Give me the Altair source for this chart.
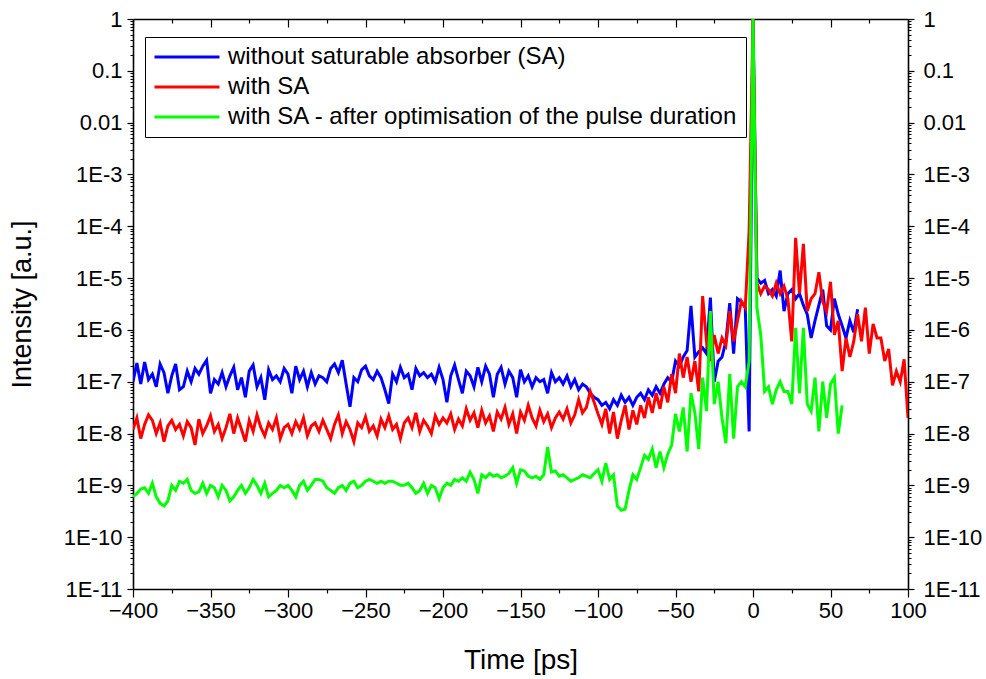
import altair as alt
import pandas as pd

# sampling grid of the traces (ps)
T0 = -400.0
DT = 2.5

blue_vals = [
    1.0e-7, 2.3e-7, 9e-8, 2.4e-7, 1.1e-7, 1.4e-7, 8e-8, 2.2e-7, 1.5e-7, 6e-8,
    1.3e-7, 2.2e-7, 7e-8, 8e-8, 1.6e-7, 1.0e-7, 1.8e-7, 1.4e-7, 2.0e-7, 2.6e-7,
    6e-8, 1.1e-7, 9e-8, 1.5e-7, 8e-8, 1.3e-7, 1.9e-7, 7e-8, 1.2e-7, 5e-8,
    1.6e-7, 2.1e-7, 8e-8, 1.2e-7, 4.5e-8, 1.7e-7, 1.1e-7, 1.3e-7, 1.0e-7, 1.8e-7,
    1.4e-7, 6e-8, 2.0e-7, 1.1e-7, 1.6e-7, 8e-8, 1.5e-7, 9e-8, 1.3e-7, 1.2e-7,
    1.0e-7, 1.8e-7, 2.2e-7, 1.5e-7, 2.6e-7, 9e-8, 3.3e-8, 1.2e-7, 1.0e-7, 1.7e-7,
    2.0e-7, 1.3e-7, 1.1e-7, 1.6e-7, 1.2e-7, 7e-8, 3.8e-8, 1.4e-7, 1.0e-7, 1.9e-7,
    1.2e-7, 1.4e-7, 7e-8, 1.8e-7, 1.3e-7, 1.5e-7, 1.2e-7, 1.4e-7, 1.0e-7, 1.9e-7,
    1.1e-7, 4e-8, 1.3e-7, 2.1e-7, 1.1e-7, 6e-8, 1.6e-7, 1.3e-7, 8e-8, 1.9e-7,
    1.0e-7, 2.0e-7, 1.4e-7, 5e-8, 1.4e-7, 1.9e-7, 9e-8, 1.6e-7, 1.2e-7, 5e-8,
    1.7e-7, 1.0e-7, 1.3e-7, 8e-8, 1.2e-7, 1.0e-7, 1.1e-7, 6e-8, 1.5e-7, 1.0e-7,
    1.2e-7, 9e-8, 1.3e-7, 8e-8, 1.1e-7, 7e-8, 9e-8, 8e-8, 6e-8, 5e-8,
    4.5e-8, 3.5e-8, 4e-8, 3e-8, 4.5e-8, 3.5e-8, 5.5e-8, 4e-8, 5e-8, 3.5e-8,
    5e-8, 6e-8, 4.5e-8, 7e-8, 5.5e-8, 8e-8, 6e-8, 9e-8, 1.2e-7, 1.0e-7,
    2.5e-7, 2.0e-7, 3.0e-7, 4.0e-7, 2.9e-6, 3.0e-7, 3.8e-7, 4.5e-7, 3.5e-7, 4.2e-6,
    1.0e-7, 2.5e-7, 3.0e-7, 6e-7, 3.3e-6, 3.5e-7, 4.0e-6, 3.5e-6, 2.7e-6, 1.1e-8,
    1.0, 1.0e-5, 8e-6, 9e-6, 5e-6, 6e-6, 4.5e-6, 1.4e-5, 2.3e-6, 5e-6,
    6e-6, 4e-6, 5e-6, 3e-6, 2e-6, 7e-7, 1.5e-6, 3e-6, 6e-6, 1.2e-6,
    1e-6, 4e-6, 2e-6, 1.2e-6, 7e-7, 1.5e-6, 9e-7, 2.5e-6,
]

red_vals = [
    1.2e-8, 2.0e-8, 8e-9, 1.5e-8, 2.3e-8, 1.8e-8, 1.0e-8, 1.6e-8, 7e-9, 1.4e-8,
    1.8e-8, 1.2e-8, 1.5e-8, 9e-9, 1.7e-8, 1.3e-8, 6e-9, 1.9e-8, 1.0e-8, 1.4e-8,
    2.2e-8, 1.1e-8, 1.5e-8, 8e-9, 1.3e-8, 2.4e-8, 1.0e-8, 2.0e-8, 1.2e-8, 7e-9,
    1.8e-8, 1.1e-8, 2.3e-8, 1.3e-8, 9e-9, 1.6e-8, 1.2e-8, 2.0e-8, 8e-9, 1.3e-8,
    1.5e-8, 1.0e-8, 1.7e-8, 1.2e-8, 2.0e-8, 9e-9, 1.4e-8, 1.6e-8, 1.1e-8, 1.8e-8,
    1.2e-8, 8e-9, 1.5e-8, 2.3e-8, 1.0e-8, 1.7e-8, 1.2e-8, 7e-9, 1.6e-8, 1.3e-8,
    2.1e-8, 1.1e-8, 1.4e-8, 9e-9, 1.9e-8, 1.3e-8, 2.2e-8, 1.2e-8, 1.5e-8, 8e-9,
    1.6e-8, 2.0e-8, 1.3e-8, 2.5e-8, 1.1e-8, 1.8e-8, 1.4e-8, 1.0e-8, 2.2e-8, 1.5e-8,
    2.0e-8, 1.6e-8, 2.4e-8, 1.2e-8, 1.9e-8, 1.4e-8, 3.0e-8, 1.8e-8, 2.5e-8, 1.3e-8,
    2.8e-8, 1.6e-8, 2.2e-8, 1.1e-8, 2.6e-8, 1.9e-8, 3.2e-8, 1.5e-8, 2.4e-8, 1.0e-8,
    2.6e-8, 1.8e-8, 3.5e-8, 2.0e-8, 1.4e-8, 2.8e-8, 1.7e-8, 2.4e-8, 1.3e-8, 2.0e-8,
    2.6e-8, 1.9e-8, 3.0e-8, 1.6e-8, 2.3e-8, 4.5e-8, 2.5e-8, 3.2e-8, 6.5e-8, 4e-8,
    2.4e-8, 1.5e-8, 3e-8, 1.0e-8, 2.6e-8, 8e-9, 1.8e-8, 3.5e-8, 1.2e-8, 2.8e-8,
    1.5e-8, 3.5e-8, 2.0e-8, 5e-8, 2.5e-8, 6e-8, 3e-8, 8e-8, 4e-8, 1.4e-7,
    6e-8, 3.5e-7, 1.2e-7, 3e-7, 1.0e-7, 2.5e-7, 6.5e-8, 4.5e-6, 6e-7, 2.5e-7,
    8e-7, 3.5e-7, 7e-7, 5e-7, 2.3e-6, 6e-7, 1.5e-6, 3.6e-6, 2.7e-6, 8e-5,
    1.0, 8e-6, 5e-6, 7e-6, 6e-6, 4.5e-6, 8e-6, 5e-6, 7e-6, 4e-6,
    6e-7, 6e-5, 5e-6, 4.6e-5, 2.3e-6, 4e-6, 5e-6, 1.3e-5, 3.5e-6, 2.3e-6,
    8.5e-6, 8e-7, 1.5e-6, 1.6e-7, 7e-7, 3e-7, 6e-7, 2e-6, 6e-7, 2.7e-6,
    3.5e-7, 1.3e-6, 7e-7, 7e-7, 2.5e-7, 4.3e-7, 8.5e-8, 1.6e-7, 1.0e-7, 2.7e-7,
    2e-8,
]

green_vals = [
    6e-10, 7e-10, 8.5e-10, 9e-10, 7e-10, 1.1e-9, 6e-10, 4.5e-10, 4e-10, 5e-10,
    1.0e-9, 8e-10, 1.2e-9, 1.1e-9, 1.3e-9, 8e-10, 7e-10, 7.5e-10, 1.1e-9, 7e-10,
    1.0e-9, 9e-10, 6e-10, 1.0e-9, 8e-10, 5e-10, 6e-10, 8e-10, 1.0e-9, 7e-10,
    9e-10, 1.3e-9, 1.0e-9, 7e-10, 1.1e-9, 6e-10, 7e-10, 8e-10, 1.0e-9, 9e-10,
    1.0e-9, 8e-10, 6e-10, 1.0e-9, 1.2e-9, 8e-10, 1.0e-9, 1.3e-9, 1.3e-9, 1.2e-9,
    9e-10, 8e-10, 7e-10, 9e-10, 1.0e-9, 8e-10, 1.1e-9, 1.2e-9, 9e-10, 1.0e-9,
    1.2e-9, 1.3e-9, 1.2e-9, 1.1e-9, 1.2e-9, 1.1e-9, 1.2e-9, 1.2e-9, 1.1e-9, 1.0e-9,
    1.0e-9, 1.1e-9, 9e-10, 7e-10, 8e-10, 1.1e-9, 7e-10, 1.0e-9, 9e-10, 5.5e-10,
    9e-10, 1.1e-9, 1.0e-9, 1.3e-9, 1.2e-9, 1.4e-9, 1.2e-9, 1.8e-9, 1.3e-9, 7e-10,
    1.6e-9, 1.4e-9, 1.7e-9, 1.5e-9, 1.6e-9, 1.4e-9, 1.5e-9, 1.7e-9, 2.2e-9, 1.1e-9,
    2.0e-9, 1.9e-9, 1.5e-9, 1.4e-9, 1.5e-9, 1.3e-9, 1.6e-9, 5.5e-9, 1.8e-9, 1.9e-9,
    1.5e-9, 1.6e-9, 1.4e-9, 1.2e-9, 1.3e-9, 1.4e-9, 1.6e-9, 1.5e-9, 1.4e-9, 1.7e-9,
    2.0e-9, 1.2e-9, 2.7e-9, 1.3e-9, 1.6e-9, 4e-10, 3.3e-10, 3.5e-10, 8e-10, 1.6e-9,
    1.3e-9, 2.2e-9, 3.8e-9, 3.2e-9, 5e-9, 2.2e-9, 4.5e-9, 2.2e-9, 4e-9, 6e-9,
    2.4e-8, 1.1e-8, 3.2e-8, 4.5e-9, 6e-8, 2.5e-8, 5e-9, 1.2e-7, 2.7e-8, 2.3e-6,
    3.7e-8, 1e-7, 2e-8, 6.5e-9, 1.4e-7, 8e-9, 8e-8, 1e-7, 8e-8, 2.5e-7,
    1.0, 2.7e-6, 8e-7, 6.5e-8, 8e-8, 3.7e-8, 7e-8, 1e-7, 6.5e-8, 6.5e-8,
    3.7e-8, 1.1e-6, 6e-8, 1.1e-6, 3.7e-8, 2.7e-8, 1.2e-7, 1.1e-8, 1.0e-7, 2e-8,
    9e-8, 1.2e-7, 1e-8, 3.5e-8,
]

series_names = [
    "without saturable absorber (SA)",
    "with SA",
    "with SA - after optimisation of the pulse duration",
]
series_colors = ["#0000FF", "#FF0000", "#00FF00"]

x_major = [-400, -350, -300, -250, -200, -150, -100, -50, 0, 50, 100]
x_minor = [-375, -325, -275, -225, -175, -125, -75, -25, 25, 75]
y_major = [1e-11, 1e-10, 1e-9, 1e-8, 1e-7, 1e-6, 1e-5, 1e-4, 1e-3, 1e-2, 1e-1, 1.0]
y_minor = [m * d for d in y_major[:-1] for m in range(2, 10)]


def frame(vals, name):
    return pd.DataFrame({
        "time": [T0 + i * DT for i in range(len(vals))],
        "intensity": vals,
        "series": name,
    })


dfs = [frame(v, n) for v, n in zip([blue_vals, red_vals, green_vals], series_names)]
carrier = pd.DataFrame({"time": [-400.0], "intensity": [1e-11]})

W, H = 775, 570
FONT = "Liberation Sans"

xscale = alt.Scale(domain=[-400, 100], nice=False, zero=False)
yscale = alt.Scale(type="log", domain=[1e-11, 1], nice=False)

label_expr = ("datum.value > 0.5 ? '1' : datum.value > 0.05 ? '0.1' : "
              "datum.value > 0.005 ? '0.01' : '1E' + round(log(datum.value) / LN10)")

common = dict(grid=False, domainColor="black", tickColor="black", labelColor="black",
              titleColor="black", labelFont=FONT, titleFont=FONT)

ax_bottom = alt.Axis(orient="bottom", values=x_major, tickSize=8, tickWidth=1.2,
                     domainWidth=1.6, labelFontSize=22, labelPadding=3, labelFlush=False,
                     labelOverlap=False, title="Time [ps]", titleFontSize=28,
                     titleFontWeight="normal", titlePadding=25, **common)
ax_left = alt.Axis(orient="left", values=y_major, tickSize=6, tickWidth=1.2,
                   domainWidth=1.6, labelFontSize=22, labelPadding=5, labelExpr=label_expr,
                   labelOverlap=False, labelFlush=False, title="Intensity [a.u.]",
                   titleFontSize=27, titleFontWeight="normal", titlePadding=27, **common)

legend = alt.Legend(orient="none", legendX=12, legendY=18, title=None,
                    symbolType="stroke", symbolSize=4225, symbolStrokeWidth=3,
                    labelFontSize=24, labelFont=FONT, labelColor="black", labelOffset=7,
                    labelLimit=0, clipHeight=24, rowPadding=6, padding=8,
                    strokeColor="black", fillColor="white", direction="vertical")
color = alt.Color("series:N", scale=alt.Scale(domain=series_names, range=series_colors),
                  legend=legend)

layers = []
for i, df in enumerate(dfs):
    layers.append(
        alt.Chart(df).mark_line(strokeWidth=3, clip=True).encode(
            x=alt.X("time:Q", scale=xscale, axis=ax_bottom if i == 0 else None),
            y=alt.Y("intensity:Q", scale=yscale, axis=ax_left if i == 0 else None),
            color=color,
        )
    )

# top frame + right labelled axis
layers.append(
    alt.Chart(carrier).mark_point(opacity=0).encode(
        x=alt.X("time:Q", scale=xscale,
                axis=alt.Axis(orient="bottom", offset=-H, values=x_major, labels=False,
                              tickSize=8, tickWidth=1.2, domainWidth=1.6, title=None, **common)),
        y=alt.Y("intensity:Q", scale=yscale,
                axis=alt.Axis(orient="right", values=y_major, labelExpr=label_expr,
                              tickSize=6, tickWidth=1.2, domainWidth=1.6, labelFontSize=22,
                              labelPadding=9, labelOverlap=False, labelFlush=False,
                              title=None, **common)),
    )
)
# minor ticks bottom / left
layers.append(
    alt.Chart(carrier).mark_point(opacity=0).encode(
        x=alt.X("time:Q", scale=xscale,
                axis=alt.Axis(orient="bottom", values=x_minor, labels=False, domain=False,
                              tickSize=4, tickWidth=1.2, title=None, **common)),
        y=alt.Y("intensity:Q", scale=yscale,
                axis=alt.Axis(orient="left", values=y_minor, labels=False, domain=False,
                              tickSize=3, tickWidth=1.0, title=None, **common)),
    )
)
# minor ticks top / right
layers.append(
    alt.Chart(carrier).mark_point(opacity=0).encode(
        x=alt.X("time:Q", scale=xscale,
                axis=alt.Axis(orient="bottom", offset=-H, values=x_minor, labels=False,
                              domain=False, tickSize=4, tickWidth=1.2, title=None, **common)),
        y=alt.Y("intensity:Q", scale=yscale,
                axis=alt.Axis(orient="right", values=y_minor, labels=False, domain=False,
                              tickSize=3, tickWidth=1.0, title=None, **common)),
    )
)

chart = alt.layer(*layers).resolve_scale(
    x="shared", y="shared", color="shared"
).resolve_axis(
    x="independent", y="independent"
).properties(
    width=W, height=H,
    autosize=alt.AutoSizeParams(type="none"),
    padding={"left": 133, "top": 19, "right": 78, "bottom": 90},
    background="white",
).configure_view(stroke=None)

chart.save("out.html", embed_options={"renderer": "svg", "actions": False})
